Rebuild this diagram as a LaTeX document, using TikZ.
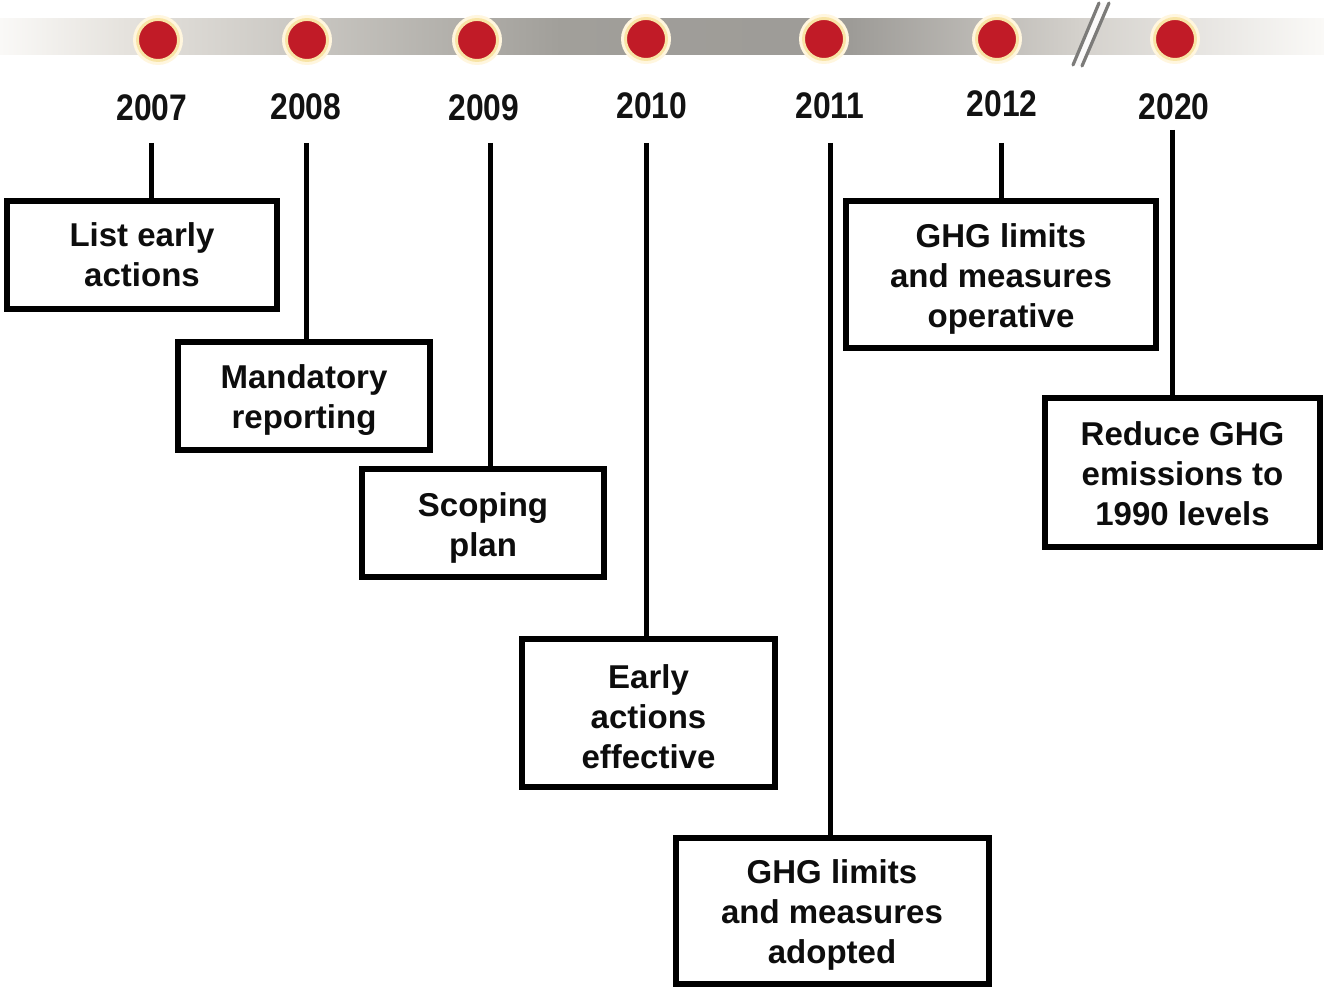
\documentclass[tikz,border=0pt]{standalone}
\usepackage{fontspec}
\setmainfont{Liberation Sans}
\definecolor{dotred}{HTML}{C11B27}
\definecolor{glowA}{HTML}{F8E4A6}
\definecolor{glowB}{HTML}{FFF6DE}
\definecolor{barA}{HTML}{FAF9F7}
\definecolor{barB}{HTML}{E6E3DE}
\definecolor{barC}{HTML}{A19F9A}
\definecolor{barD}{HTML}{9D9B97}
\definecolor{barE}{HTML}{D4D1CC}
\definecolor{breakgray}{HTML}{7C7B79}
\newcommand{\boxfont}{\fontsize{24.75pt}{30pt}\selectfont\bfseries}
\newcommand{\yearfont}{\fontsize{27.75pt}{30pt}\selectfont\bfseries}
\begin{document}
\begin{tikzpicture}[x=0.75pt,y=-0.75pt,
  box/.style={draw=black, line width=4.5pt, fill=white, inner sep=0pt},
  boxtext/.style={font=\boxfont, align=center, inner sep=0pt, yshift=-3pt, text=black!95},
  boxwh/.style 2 args={minimum width={(#1-6)*0.75pt}, minimum height={(#2-6)*0.75pt}},
  stem/.style={line width=3.75pt, draw=black},
  yearlbl/.style={font=\yearfont, inner sep=0pt, text=black!93},
  dot/.style={circle, fill=dotred, draw=glowA, line width=2.2pt, minimum size={41*0.75pt}, inner sep=0pt},
  halo/.style={circle, fill=glowB, minimum size={50*0.75pt}, inner sep=0pt},
  breakline/.style={line width=2.4pt, draw=breakgray, line cap=round}
]
\useasboundingbox (0,0) rectangle (1324,987);
\fill[white] (0,0) rectangle (1324,987);

% gradient bar
\shade[left color=barA, right color=barB] (0,19) rectangle (121,55);
\shade[left color=barB, right color=barC] (120,19) rectangle (561,55);
\shade[left color=barC, right color=barD] (560,19) rectangle (851,55);
\shade[left color=barD, right color=barE] (850,19) rectangle (1081,55);
\shade[left color=barE, right color=barA] (1080,19) rectangle (1324,55);

% break mark
\fill[white!90!barE] (1099,3) -- (1109,3) -- (1082,66) -- (1073,65) -- cycle;
\coordinate (k1a) at (1099,3); \coordinate (k1b) at (1073,65);
\coordinate (k2a) at (1109,3); \coordinate (k2b) at (1082,66);
\draw[breakline] (k1a) -- (k1b);
\draw[breakline] (k2a) -- (k2b);

% dots
\foreach \n/\x/\y in {d07/158/40, d08/307/40, d09/477/40, d10/646/39, d11/824/39, d12/997/39, d20/1175/39}{
  \node[halo] at (\x,\y) {};
  \node[dot] (\n) at (\x,\y) {};
}

% years
\node[yearlbl] (y07) at (152,108) {\scalebox{0.86}[1]{2007}};
\node[yearlbl] (y08) at (306,107) {\scalebox{0.86}[1]{2008}};
\node[yearlbl] (y09) at (484,108) {\scalebox{0.86}[1]{2009}};
\node[yearlbl] (y10) at (652,106) {\scalebox{0.86}[1]{2010}};
\node[yearlbl] (y11) at (830,106) {\scalebox{0.86}[1]{2011}};
\node[yearlbl] (y12) at (1002,104) {\scalebox{0.86}[1]{2012}};
\node[yearlbl] (y20) at (1174,107) {\scalebox{0.86}[1]{2020}};

% stem tops
\coordinate (t07) at (151,143);
\coordinate (t08) at (306,143);
\coordinate (t09) at (490,143);
\coordinate (t10) at (646,143);
\coordinate (t11) at (830,143);
\coordinate (t12) at (1001,143);
\coordinate (t20) at (1172,130);

% boxes (shapes only)
\node[box, boxwh={276}{114}] (b07) at (142,255) {};
\node[box, boxwh={258}{114}] (b08) at (304,396) {};
\node[box, boxwh={248}{114}] (b09) at (483,523) {};
\node[box, boxwh={259}{154}] (b10) at (648.5,713) {};
\node[box, boxwh={319}{152}] (b11) at (832,911) {};
\node[box, boxwh={316}{153}] (b12) at (1001,274.5) {};
\node[box, boxwh={281}{155}] (b20) at (1182.5,472.5) {};

% box texts
\node[boxtext, yshift=3pt] (x07) at (b07.center) {List early\\actions};
\node[boxtext] (x08) at (b08.center) {Mandatory\\reporting};
\node[boxtext, yshift=-1pt] (x09) at (b09.center) {Scoping\\plan};
\node[boxtext] (x10) at (b10.center) {Early\\actions\\effective};
\node[boxtext] (x11) at (b11.center) {GHG limits\\and measures\\adopted};
\node[boxtext] (x12) at (b12.center) {GHG limits\\and measures\\operative};
\node[boxtext, yshift=2pt] (x20) at (b20.center) {Reduce GHG\\emissions to\\1990 levels};

% stems
\draw[stem] (t07) -- (t07 |- b07.north);
\draw[stem] (t08) -- (t08 |- b08.north);
\draw[stem] (t09) -- (t09 |- b09.north);
\draw[stem] (t10) -- (t10 |- b10.north);
\draw[stem] (t11) -- (t11 |- b11.north);
\draw[stem] (t12) -- (t12 |- b12.north);
\draw[stem] (t20) -- (t20 |- b20.north);
\end{tikzpicture}
\end{document}
